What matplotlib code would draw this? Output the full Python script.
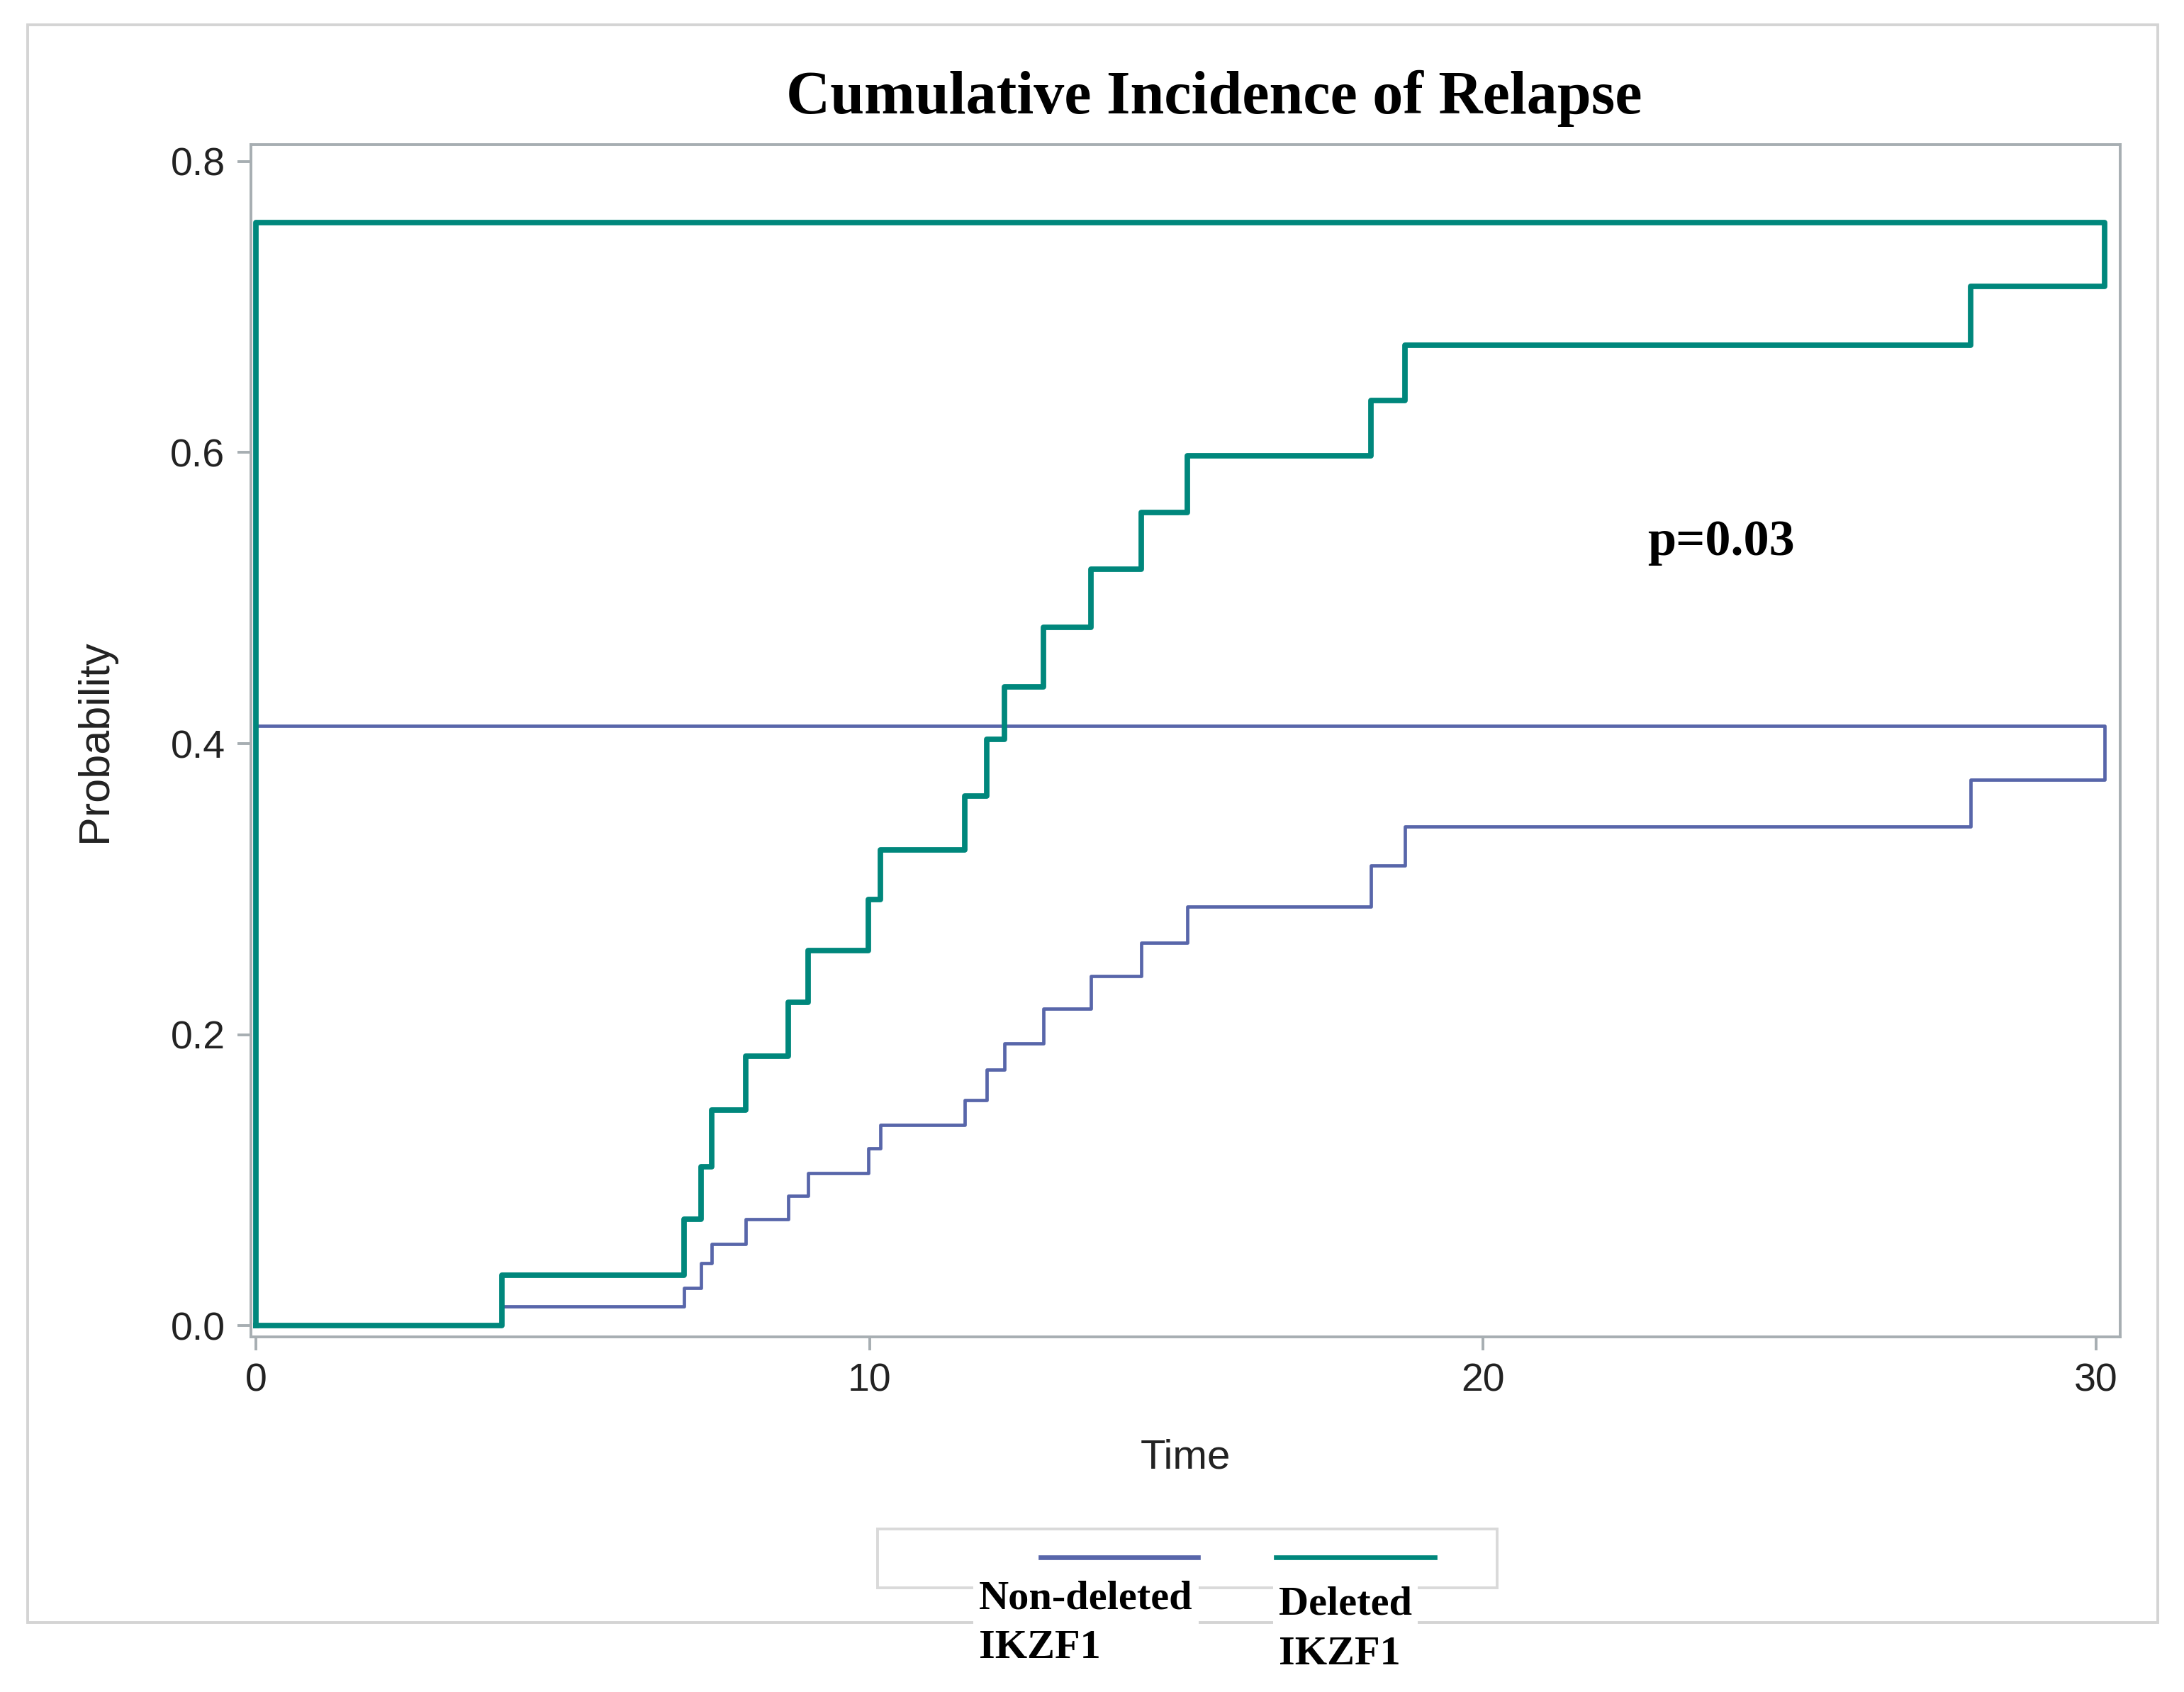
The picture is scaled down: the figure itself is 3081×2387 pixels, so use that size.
import matplotlib
matplotlib.use("Agg")
import matplotlib.pyplot as plt
from matplotlib.lines import Line2D
from matplotlib.patches import Rectangle
import numpy as np

# event times (same for both groups) and cumulative incidence after each step
times = [0, 4.0, 6.98, 7.25, 7.43, 7.98, 8.68, 9.0, 9.98, 10.18, 11.55,
         11.91, 12.2, 12.84, 13.61, 14.43, 15.18, 18.18, 18.73, 27.95]
t_end = 30.14
cif_deleted = [0, 0.0345, 0.073, 0.109, 0.148, 0.185, 0.222, 0.258, 0.293,
               0.327, 0.364, 0.403, 0.439, 0.480, 0.520, 0.559, 0.598,
               0.636, 0.674, 0.714]
cif_nondel = [0, 0.0134, 0.026, 0.043, 0.056, 0.073, 0.089, 0.105, 0.122,
              0.138, 0.155, 0.176, 0.194, 0.218, 0.240, 0.263, 0.288,
              0.316, 0.343, 0.375]
upper_deleted = 0.758
upper_nondel = 0.412

labels = ["Non-deleted\nIKZF1", "Deleted\nIKZF1"]
c_blue = "#5866aa"
c_teal = "#00877c"
grey = "#a7aeb2"

def step_path(t, y, t_last, top):
    # step curve, then the band edge back along the top
    xs, ys = [t[0]], [y[0]]
    for i in range(1, len(t)):
        xs += [t[i], t[i]]
        ys += [y[i - 1], y[i]]
    xs += [t_last, t_last, t[0], t[0]]
    ys += [y[-1], top, top, y[0]]
    return np.array(xs), np.array(ys)

fig = plt.figure(figsize=(15.405, 11.935), dpi=200)
ax = fig.add_axes([0.1148, 0.2099, 0.8559, 0.7045])

xb, yb = step_path(times, cif_nondel, t_end, upper_nondel)
ax.plot(xb, yb, color=c_blue, lw=1.7, solid_joinstyle="round")
xt, yt = step_path(times, cif_deleted, t_end, upper_deleted)
ax.plot(xt, yt, color=c_teal, lw=2.8, solid_joinstyle="round")

ax.set_xlim(-0.09, 30.39)
ax.set_ylim(-0.0077, 0.8115)
ax.set_xticks([0, 10, 20, 30])
ax.set_yticks([0.0, 0.2, 0.4, 0.6, 0.8])
ax.set_yticklabels(["0.0", "0.2", "0.4", "0.6", "0.8"])
for s in ax.spines.values():
    s.set_color(grey)
    s.set_linewidth(1.4)
ax.tick_params(direction="out", length=7, width=1.4, color=grey,
               labelsize=20, labelcolor="#222222", pad=6)
for lab in ax.get_xticklabels() + ax.get_yticklabels():
    lab.set_family("Liberation Sans")

ax.set_xlabel("Time", fontsize=21, family="Liberation Sans", color="#222222", labelpad=20)
ax.set_ylabel("Probability", fontsize=22, family="Liberation Sans", color="#222222", labelpad=28)

ax.text(22.69, 0.538, "p=0.03", fontsize=26, fontweight="bold",
        family="Liberation Serif", ha="left", va="center")

fig.text(0.556, 0.942, "Cumulative Incidence of Relapse", fontsize=31,
         fontweight="bold", family="Liberation Serif", ha="center", va="center")

# outer frame
fig.patches.append(Rectangle((0.01276, 0.04115), 0.97514, 0.94405,
                             transform=fig.transFigure, fill=False,
                             edgecolor="#d4d4d4", lw=1.4, zorder=0))
# legend box
fig.patches.append(Rectangle((0.4018, 0.0617), 0.2838, 0.0346,
                             transform=fig.transFigure, fill=False,
                             edgecolor="#d9d9d9", lw=1.4, zorder=0))
fig.lines.append(Line2D([0.4764, 0.5485], [0.0798, 0.0798], transform=fig.transFigure,
                        color=c_blue, lw=2.4))
fig.lines.append(Line2D([0.5842, 0.6569], [0.0798, 0.0798], transform=fig.transFigure,
                        color=c_teal, lw=2.4))
fig.text(0.4483, 0.066, labels[0], fontsize=21, fontweight="bold", family="Liberation Serif",
         ha="left", va="top", linespacing=1.45,
         bbox=dict(facecolor="white", edgecolor="none", pad=3))
fig.text(0.5855, 0.0625, labels[1], fontsize=21, fontweight="bold", family="Liberation Serif",
         ha="left", va="top", linespacing=1.45,
         bbox=dict(facecolor="white", edgecolor="none", pad=3))

fig.savefig("out.png", dpi=200, facecolor="white")
